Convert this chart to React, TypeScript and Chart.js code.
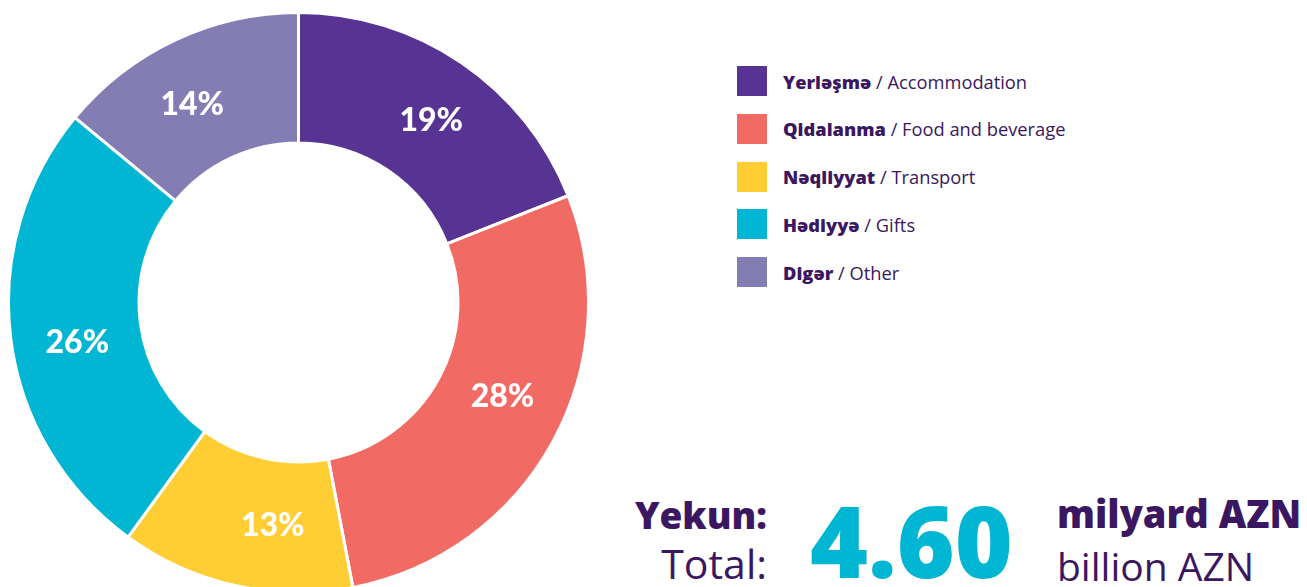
import React, { useEffect, useRef } from "react";
import { Chart, registerables } from "chart.js";

Chart.register(...registerables);

const categoriesAz = ["Yerləşmə", "Qidalanma", "Nəqliyyat", "Hədiyyə", "Digər"];
const categoriesEn = ["Accommodation", "Food and beverage", "Transport", "Gifts", "Other"];
const shares = [19, 28, 13, 26, 14];
const colors = ["#573393", "#F26A64", "#FFCD34", "#00B6D2", "#837DB4"];
const totalValue = "4.60";
// small angular nudges (degrees) of the percentage labels from each slice's mid-angle
const labelNudgeDeg = [2, -4, -6, -3, -3];

const DARK = "#3A1760";
const FONT = "'Open Sans', Lato, sans-serif";

const labelPlugin = {
  id: "sliceLabels",
  afterDatasetsDraw(chart: any) {
    const ctx = chart.ctx;
    const meta = chart.getDatasetMeta(0);
    ctx.save();
    ctx.fillStyle = "#ffffff";
    ctx.font = `900 32px Lato, sans-serif`;
    ctx.textAlign = "center";
    ctx.textBaseline = "middle";
    meta.data.forEach((arc: any, i: number) => {
      const p = arc.getProps(["x", "y", "startAngle", "endAngle", "innerRadius", "outerRadius"], true);
      const mid = (p.startAngle + p.endAngle) / 2 + (labelNudgeDeg[i] * Math.PI) / 180;
      const r = (p.innerRadius + p.outerRadius) / 2;
      ctx.fillText(`${shares[i]}%`, p.x + Math.cos(mid) * r, p.y + Math.sin(mid) * r);
    });
    ctx.restore();
  },
};

export default function App() {
  const ref = useRef<HTMLCanvasElement | null>(null);

  useEffect(() => {
    if (!ref.current) return;
    const chart = new Chart(ref.current, {
      type: "doughnut",
      data: {
        labels: categoriesEn,
        datasets: [
          {
            data: shares,
            backgroundColor: colors,
            borderColor: "#ffffff",
            borderWidth: 3,
          },
        ],
      },
      options: {
        responsive: false,
        maintainAspectRatio: false,
        animation: false,
        cutout: "55%",
        layout: { padding: 0 },
        plugins: {
          legend: { display: false },
          tooltip: { enabled: false },
        },
      },
      plugins: [labelPlugin],
    });
    return () => chart.destroy();
  }, []);

  const line = (top: number, left: number | undefined, right: number | undefined, size: number, weight: number, text: string, color = DARK) => (
    <div
      style={{
        position: "absolute",
        top,
        left,
        right,
        fontSize: size,
        fontWeight: weight,
        lineHeight: 1,
        color,
        whiteSpace: "nowrap",
      }}
    >
      {text}
    </div>
  );

  return (
    <div
      style={{
        position: "fixed",
        left: 0,
        top: 0,
        width: 1307,
        height: 587,
        overflow: "hidden",
        background: "#ffffff",
        fontFamily: FONT,
        color: DARK,
      }}
    >
      <canvas
        ref={ref}
        width={583}
        height={583}
        style={{ position: "absolute", left: 6.5, top: 10.5, width: 583, height: 583 }}
      />
      {categoriesAz.map((az, i) => (
        <div
          key={az}
          style={{
            position: "absolute",
            left: 737,
            top: 66 + i * 47.8,
            height: 30,
            display: "flex",
            alignItems: "center",
            whiteSpace: "nowrap",
          }}
        >
          <div style={{ width: 30, height: 30, background: colors[i], marginRight: 16 }} />
          <span style={{ fontSize: 18.3, fontWeight: 800 }}>{az}</span>
          <span style={{ fontSize: 18.3, fontWeight: 400 }}>&nbsp;/ {categoriesEn[i]}</span>
        </div>
      ))}
      {line(496, undefined, 1307 - 767, 37, 800, "Yekun:")}
      {line(543, undefined, 1307 - 767, 41, 400, "Total:")}
      {line(490, 810, undefined, 99, 800, totalValue, "#00B6D2")}
      {line(494, 1057, undefined, 38, 800, "milyard AZN")}
      {line(546, 1057, undefined, 39, 400, "billion AZN")}
    </div>
  );
}
